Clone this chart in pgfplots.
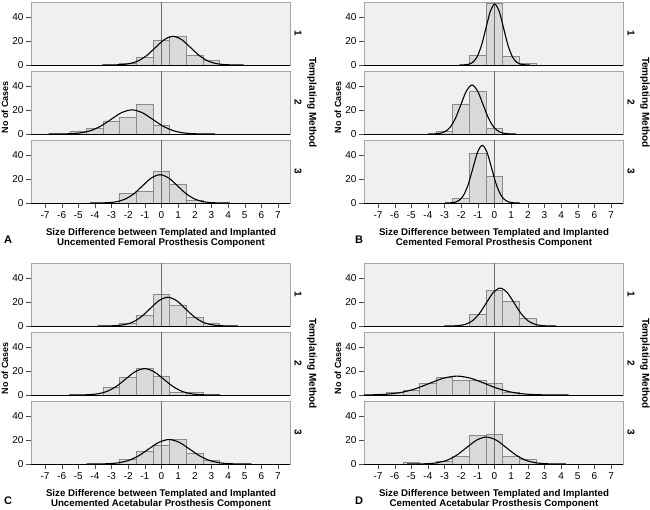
\documentclass[border=0pt]{standalone}
\usepackage{fontspec}
\setmainfont{Liberation Sans}
\usepackage{pgfplots}
\pgfplotsset{compat=1.18}

\definecolor{bgc}{HTML}{F0F0F0}
\definecolor{framec}{HTML}{A6A6A6}
\definecolor{barc}{HTML}{D9D9D9}
\definecolor{barline}{HTML}{8A8A8A}
\definecolor{zeroc}{HTML}{6E6E6E}

\pgfplotsset{
  sub/.style={
    anchor=north west, scale only axis,
    width=259pt, height=63pt,
    xmin=-7.84, xmax=7.72, ymin=0, ymax=53,
    axis background/.style={fill=bgc},
    axis line style={draw=framec},
    ytick={0,20,40}, ytick pos=left,
    tick align=outside, major tick length=5pt,
    tick style={draw=black!70},
    xmajorticks=false,
    tick label style={font=\fontsize{10}{11}\selectfont},
    yticklabel style={xshift=1pt},
    /pgf/number format/assume math mode=true,
    clip=true,
  },
  bottomrow/.style={xmajorticks=true, xtick={-7,...,7}, xtick pos=bottom},
  bars/.style={ybar, bar width=1, bar shift=0pt, fill=barc, draw=barline, line width=0.8pt},
  curve/.style={black, line width=1.1pt, smooth, no marks},
}

% #1 x, #2 y of top left, #3 extra options, #4 bars, #5 curve
\newcommand\sub[5]{%
  \begin{axis}[sub, at={(#1pt,-#2pt)}, #3]
    \addplot[bars] coordinates {#4};
    \draw[zeroc, line width=0.8pt] (axis cs:0,0) -- (axis cs:0,53);
    \addplot[curve] coordinates {#5};
    \draw[black, line width=0.9pt] (rel axis cs:0,0) -- (rel axis cs:1,0);
  \end{axis}}

\begin{document}
\begin{tikzpicture}
\path[use as bounding box] (0,0) rectangle (650pt,-509pt);

% ---------- A : uncemented femoral
\sub{31}{2}{}{(-2,1) (-1,6) (0,21) (1,24) (2,8) (3,4)}
 {(-3.55,0.01) (-3.02,0.05) (-2.49,0.27) (-1.96,1.06) (-1.43,3.26) (-0.90,7.83) (-0.37,14.62) (0.16,21.27) (0.69,24.1) (1.22,21.27) (1.75,14.62) (2.28,7.83) (2.81,3.26) (3.34,1.06) (3.87,0.27) (4.40,0.05) (4.93,0.01)}
\sub{31}{71}{}{(-5,2) (-4,5) (-3,11) (-2,14) (-1,25) (0,7)}
 {(-6.78,0.01) (-6.155,0.04) (-5.53,0.23) (-4.905,0.89) (-4.28,2.75) (-3.655,6.59) (-3.03,12.31) (-2.405,17.91) (-1.78,20.3) (-1.155,17.91) (-0.53,12.31) (0.095,6.59) (0.72,2.75) (1.345,0.89) (1.97,0.23) (2.595,0.04) (3.22,0.01)}
\sub{31}{140}{bottomrow}{(-2,8) (-1,10) (0,27) (1,16) (2,2)}
 {(-4.29,0.01) (-3.765,0.05) (-3.24,0.26) (-2.715,1.04) (-2.19,3.22) (-1.665,7.73) (-1.14,14.43) (-0.615,21.0) (-0.09,23.8) (0.435,21.0) (0.96,14.43) (1.485,7.73) (2.01,3.22) (2.535,1.04) (3.06,0.26) (3.585,0.05) (4.11,0.01)}

% ---------- B : cemented femoral
\sub{364}{2}{}{(-1,8) (0,52) (1,7) (2,1)}
 {(-2.105,0.02) (-1.84,0.11) (-1.575,0.57) (-1.31,2.25) (-1.045,6.93) (-0.78,16.62) (-0.515,31.05) (-0.25,45.18) (0.015,51.2) (0.28,45.18) (0.545,31.05) (0.81,16.62) (1.075,6.93) (1.34,2.25) (1.605,0.57) (1.87,0.11) (2.135,0.02)}
\sub{364}{71}{}{(-3,2) (-2,25) (-1,36) (0,5)}
 {(-3.989,0.01) (-3.66,0.09) (-3.330,0.46) (-3.0,1.81) (-2.671,5.57) (-2.342,13.38) (-2.012,24.99) (-1.683,36.36) (-1.353,41.2) (-1.023,36.36) (-0.694,24.99) (-0.364,13.38) (-0.035,5.57) (0.295,1.81) (0.624,0.46) (0.954,0.09) (1.283,0.01)}
\sub{364}{140}{bottomrow}{(-2,4) (-1,42) (0,22)}
 {(-2.975,0.01) (-2.695,0.11) (-2.415,0.54) (-2.135,2.13) (-1.855,6.56) (-1.575,15.75) (-1.295,29.42) (-1.015,42.8) (-0.735,48.5) (-0.455,42.8) (-0.175,29.42) (0.105,15.75) (0.385,6.56) (0.665,2.13) (0.945,0.54) (1.225,0.11) (1.505,0.01)}

% ---------- C : uncemented acetabular
\sub{31}{263}{}{(-2,2) (-1,9) (0,27) (1,17) (2,7) (3,2)}
 {(-3.837,0.01) (-3.311,0.05) (-2.784,0.27) (-2.258,1.06) (-1.731,3.27) (-1.205,7.86) (-0.678,14.68) (-0.152,21.36) (0.375,24.2) (0.902,21.36) (1.428,14.68) (1.955,7.86) (2.481,3.27) (3.008,1.06) (3.534,0.27) (4.061,0.05) (4.587,0.01)}
\sub{31}{332}{}{(-3,6) (-2,15) (-1,22) (0,16) (1,2) (2,2)}
 {(-5.552,0.01) (-4.985,0.05) (-4.418,0.25) (-3.851,0.97) (-3.284,3.0) (-2.717,7.21) (-2.15,13.46) (-1.583,19.59) (-1.016,22.2) (-0.449,19.59) (0.118,13.46) (0.685,7.21) (1.252,3.0) (1.819,0.97) (2.386,0.25) (2.953,0.05) (3.52,0.01)}
\sub{31}{401}{bottomrow}{(-2,4) (-1,11) (0,16) (1,21) (2,9) (3,3)}
 {(-4.495,0.01) (-3.877,0.05) (-3.258,0.23) (-2.64,0.90) (-2.021,2.79) (-1.403,6.69) (-0.784,12.49) (-0.166,18.18) (0.453,20.6) (1.072,18.18) (1.69,12.49) (2.309,6.69) (2.927,2.79) (3.546,0.90) (4.164,0.23) (4.783,0.05) (5.401,0.01)}

% ---------- D : cemented acetabular
\sub{364}{263}{}{(-1,10) (0,30) (1,21) (2,6)}
 {(-3.009,0.01) (-2.59,0.07) (-2.171,0.35) (-1.752,1.40) (-1.333,4.32) (-0.914,10.36) (-0.495,19.35) (-0.076,28.15) (0.343,31.9) (0.762,28.15) (1.181,19.35) (1.6,10.36) (2.019,4.32) (2.438,1.40) (2.857,0.35) (3.276,0.07) (3.695,0.01)}
\sub{364}{332}{}{(-6,2) (-5,4) (-4,10) (-3,15) (-2,12) (-1,12) (0,10) (1,2)}
 {(-8.966,0.005) (-8.127,0.03) (-7.288,0.18) (-6.449,0.70) (-5.61,2.15) (-4.771,5.16) (-3.932,9.64) (-3.093,14.03) (-2.254,15.9) (-1.415,14.03) (-0.576,9.64) (0.263,5.16) (1.102,2.15) (1.941,0.70) (2.78,0.18) (3.619,0.03) (4.458,0.005)}
\sub{364}{401}{bottomrow}{(-5,1) (-3,2) (-2,6) (-1,24) (0,25) (1,6) (2,4)}
 {(-5.261,0.01) (-4.664,0.05) (-4.067,0.25) (-3.47,1.0) (-2.873,3.07) (-2.276,7.37) (-1.679,13.77) (-1.082,20.03) (-0.485,22.7) (0.112,20.03) (0.709,13.77) (1.306,7.37) (1.903,3.07) (2.5,1.0) (3.097,0.25) (3.694,0.05) (4.291,0.01)}

% ---------- labels
\tikzset{lab/.style={font=\bfseries\fontsize{9.7}{9.5}\selectfont, align=center, inner sep=0pt},
         ylab/.style={font=\bfseries\fontsize{9}{10}\selectfont, rotate=90, inner sep=0pt},
         row/.style={font=\bfseries\fontsize{10}{11}\selectfont, rotate=-90, inner sep=0pt},
         big/.style={font=\bfseries\fontsize{11}{11}\selectfont, inner sep=0pt}}
\foreach \xo/\yo/\txt/\ltr/\lx in {0/0/Uncemented Femoral Prosthesis Component/A/8,
                              333/0/Cemented Femoral Prosthesis Component/B/359,
                              0/261/Uncemented Acetabular Prosthesis Component/C/8,
                              333/261/Cemented Acetabular Prosthesis Component/D/359}{
  \node[lab] at ({(161+\xo)*1pt},{-(238+\yo)*1pt}) {Size Difference between Templated and Implanted\\\txt};
  \node[big] at (\lx pt,{-(240+\yo)*1pt}) {\ltr};
  \node[ylab] at ({(5+\xo)*1pt},{-(107+\yo)*1pt}) {No of Cases};
  \node[row] at ({(298+\xo)*1pt},{-(33.5+\yo)*1pt}) {1};
  \node[row] at ({(298+\xo)*1pt},{-(102.5+\yo)*1pt}) {2};
  \node[row] at ({(298+\xo)*1pt},{-(171.5+\yo)*1pt}) {3};
  \node[row] at ({(312+\xo)*1pt},{-(102.5+\yo)*1pt}) {Templating Method};
}
\end{tikzpicture}
\end{document}
